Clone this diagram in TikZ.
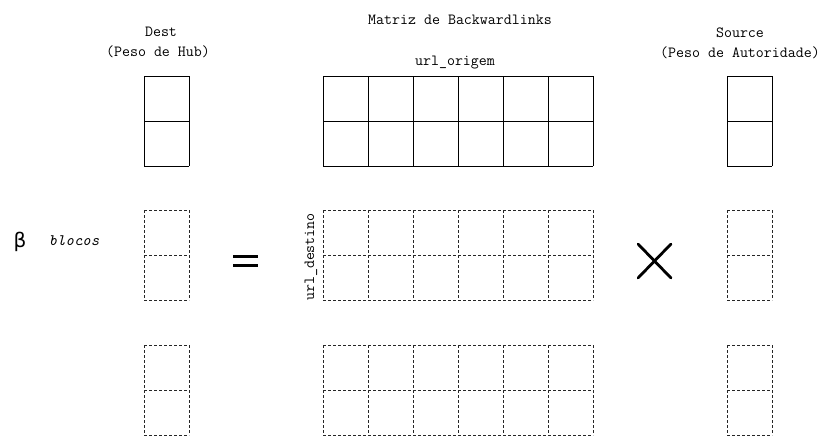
\documentclass[tikz,border=0pt]{standalone}
\usepackage{fontspec}
\newfontfamily\greek{DejaVu Sans}
\begin{document}
\begin{tikzpicture}[x=1pt,y=-1pt,
  lbl/.style={font=\ttfamily\fontsize{15.5}{18}\selectfont, inner sep=0pt, text=black},
  cellsolid/.style={draw=black, line width=0.9pt},
  celldash/.style={draw=black!85, line width=0.9pt, dash pattern=on 3pt off 2pt},
  sym/.style={line width=2.8pt, line cap=round}]
\useasboundingbox (0,0) rectangle (827,436);
% titles
\node[lbl] (dest) at (161,32) {Dest};
\node[lbl] (hub) at (158,52) {(Peso de Hub)};
\node[lbl] (matriz) at (460,20) {Matriz de Backwardlinks};
\node[lbl] (origem) at (455,63) {url\_origem};
\node[lbl] (source) at (740,33) {Source};
\node[lbl] (aut) at (740,53) {(Peso de Autoridade)};
\node[lbl, rotate=90] (destino) at (311,257) {url\_destino};
\node[inner sep=0pt, font=\greek\fontsize{20}{22}\selectfont] (beta) at (20,242) {β};
\node[lbl, font=\ttfamily\itshape\fontsize{16}{18}\selectfont] (blocos) at (74,241) {blocos};
% grids: each line drawn once
\foreach \y/\st in {76/cellsolid, 210/celldash, 345/celldash}{
  \foreach \r in {0,1,2}{
    \path[\st] (144,\y+45*\r) -- (189,\y+45*\r);
    \path[\st] (727,\y+45*\r) -- (772,\y+45*\r);
    \path[\st] (323,\y+45*\r) -- (593,\y+45*\r);
  }
  \foreach \xx in {144,189,727,772,323,368,413,458,503,548,593}{
    \path[\st] (\xx,\y) -- (\xx,\y+90);
  }
}
% equals sign
\coordinate (eqa1) at (233,256); \coordinate (eqa2) at (258,256);
\coordinate (eqb1) at (233,265.5); \coordinate (eqb2) at (258,265.5);
\draw[line width=3pt] (eqa1) -- (eqa2);
\draw[line width=3pt] (eqb1) -- (eqb2);
% times
\coordinate (x1) at (638,244); \coordinate (x2) at (671,278);
\coordinate (x3) at (638,278); \coordinate (x4) at (671,244);
\draw[sym] (x1) -- (x2);
\draw[sym] (x3) -- (x4);
\end{tikzpicture}
\end{document}
